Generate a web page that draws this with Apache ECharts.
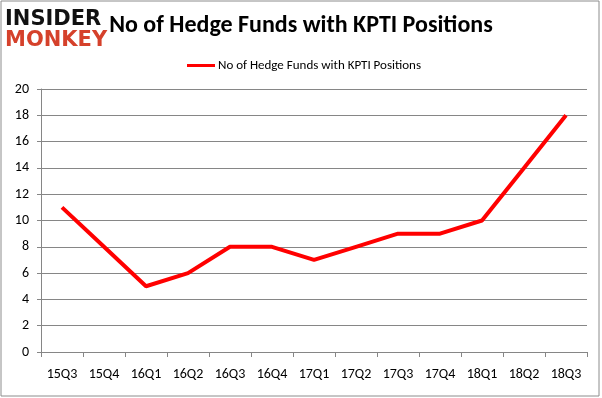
<!DOCTYPE html>
<html>
<head>
<meta charset="utf-8">
<script src="https://cdn.jsdelivr.net/npm/echarts@6/dist/echarts.min.js"></script>
<style>
  html, body { margin: 0; padding: 0; background: #fff; }
  #chart { width: 602px; height: 398px; }
</style>
</head>
<body>
<div id="chart"></div>
<script>
// data
const quarters = ['15Q3', '15Q4', '16Q1', '16Q2', '16Q3', '16Q4', '17Q1', '17Q2', '17Q3', '17Q4', '18Q1', '18Q2', '18Q3']
const fundCounts = [11, 8, 5, 6, 8, 8, 7, 8, 9, 9, 10, 14, 18]
const seriesName = 'No of Hedge Funds with KPTI Positions'

const chart = echarts.init(document.getElementById('chart'))
const font = 'Carlito, "Open Sans", "Liberation Sans", sans-serif'

let option = {
  backgroundColor: '#fff',
  animation: false,
  title: {
    text: 'No of Hedge Funds with KPTI Positions',
    left: 296,
    textAlign: 'center',
    top: 9,
    textStyle: { fontFamily: font, fontSize: 24, fontWeight: 'bold', color: '#000' }
  },
  legend: {
    data: [seriesName],
    top: 54,
    left: 182,
    itemWidth: 28,
    itemHeight: 3,
    itemGap: 4,
    icon: 'rect',
    textStyle: { fontFamily: font, fontSize: 13, color: '#000', padding: [0, 0, 0, -2] }
  },
  graphic: [
    {
      type: 'rect',
      shape: { x: 1, y: 1, width: 598, height: 395 },
      style: { fill: 'none', stroke: '#8c8c8c', lineWidth: 1 },
      silent: true
    },
    {
      type: 'text',
      left: 5, top: 9,
      style: { text: 'INSIDER', fill: '#111', font: '900 21px "DejaVu Sans", sans-serif' }
    },
    {
      type: 'text',
      left: 5, top: 30,
      style: { text: 'MONKEY', fill: '#d5412b', font: '900 21px "DejaVu Sans", sans-serif' }
    }
  ],
  grid: { left: 41, right: 15, top: 89, bottom: 46 },
  xAxis: {
    type: 'category',
    data: quarters,
    boundaryGap: true,
    axisLine: { lineStyle: { color: '#868686' } },
    axisTick: { show: true, length: 5, alignWithLabel: false, lineStyle: { color: '#868686' } },
    axisLabel: { fontFamily: font, fontSize: 14, color: '#000', margin: 15, interval: 0 }
  },
  yAxis: {
    type: 'value',
    min: 0,
    max: 20,
    interval: 2,
    axisLine: { show: true, lineStyle: { color: '#868686' } },
    axisTick: { show: true, length: 4, lineStyle: { color: '#868686' } },
    axisLabel: { fontFamily: font, fontSize: 14, color: '#000', margin: 12 },
    splitLine: { lineStyle: { color: '#868686' } }
  },
  series: [
    {
      name: seriesName,
      type: 'line',
      data: fundCounts,
      symbol: 'none',
      lineStyle: { color: '#ff0000', width: 4 },
      itemStyle: { color: '#ff0000' }
    }
  ]
}
chart.setOption(option)
</script>
</body>
</html>
